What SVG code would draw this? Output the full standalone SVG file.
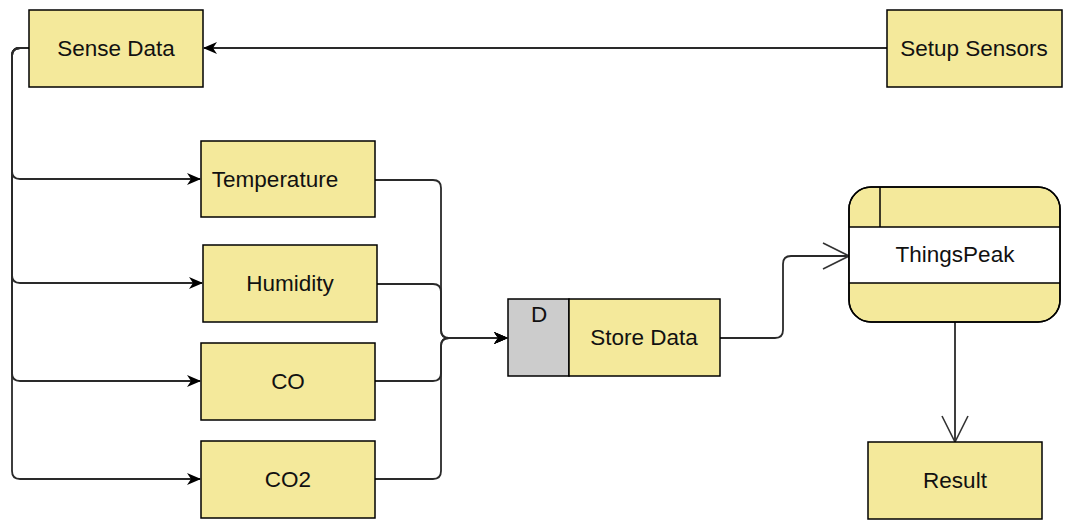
<svg xmlns="http://www.w3.org/2000/svg" width="1066" height="522" viewBox="0 0 1066 522">
<style>
.box{fill:#f4e99b;stroke:#000;stroke-width:1.5}
.lbl{font-family:"Liberation Sans",Arial,sans-serif;font-size:22.5px;fill:#111;text-anchor:middle}
.con{fill:none;stroke:#2a2a2a;stroke-width:1.8}
</style>
<defs>
<marker id="fa" viewBox="0 0 14 12" refX="13" refY="6" markerWidth="14" markerHeight="12" markerUnits="userSpaceOnUse" orient="auto">
<path d="M0,0 L14,6 L0,12 L4,6 Z" fill="#000"/>
</marker>
<marker id="oa" viewBox="0 0 28 30" refX="27" refY="15" markerWidth="28" markerHeight="30" markerUnits="userSpaceOnUse" orient="auto">
<path d="M1,2 L27,15 L1,28" fill="none" stroke="#333" stroke-width="1.6"/>
</marker>
</defs>
<rect width="1066" height="522" fill="#fff"/>
<g id="connectors">
<path class="con" d="M887,48 H204" marker-end="url(#fa)"/>
<path class="con" d="M29,48 H20 Q12,48 12,56 V171 Q12,179 20,179 H200" marker-end="url(#fa)"/>
<path class="con" d="M29,48 H20 Q12,48 12,56 V275 Q12,283 20,283 H202" marker-end="url(#fa)"/>
<path class="con" d="M29,48 H20 Q12,48 12,56 V373 Q12,381 20,381 H200" marker-end="url(#fa)"/>
<path class="con" d="M29,48 H20 Q12,48 12,56 V471 Q12,479 20,479 H200" marker-end="url(#fa)"/>
<path class="con" d="M375,180 H433 Q441,180 441,188 V330 Q441,338 449,338 H507" marker-end="url(#fa)"/>
<path class="con" d="M377,284 H433 Q441,284 441,292 V330 Q441,338 449,338 H507" marker-end="url(#fa)"/>
<path class="con" d="M375,381 H433 Q441,381 441,373 V346 Q441,338 449,338 H507" marker-end="url(#fa)"/>
<path class="con" d="M375,479 H433 Q441,479 441,471 V346 Q441,338 449,338 H507" marker-end="url(#fa)"/>
<path class="con" d="M720,338 H775 Q783,338 783,330 V264 Q783,256 791,256 H849" marker-end="url(#oa)"/>
<path class="con" d="M955,322 V442" marker-end="url(#oa)"/>
</g>
<g id="sense-data">
<rect class="box" x="29" y="10" width="174" height="77"/>
<text class="lbl" x="116" y="56">Sense Data</text>
</g>
<g id="setup-sensors">
<rect class="box" x="887" y="10" width="175" height="77"/>
<text class="lbl" x="974" y="56">Setup Sensors</text>
</g>
<g id="temperature">
<rect class="box" x="201" y="141" width="174" height="76"/>
<text class="lbl" x="275" y="187">Temperature</text>
</g>
<g id="humidity">
<rect class="box" x="203" y="245" width="174" height="77"/>
<text class="lbl" x="290" y="291">Humidity</text>
</g>
<g id="co">
<rect class="box" x="201" y="343" width="174" height="77"/>
<text class="lbl" x="288" y="389">CO</text>
</g>
<g id="co2">
<rect class="box" x="201" y="441" width="174" height="77"/>
<text class="lbl" x="288" y="487">CO2</text>
</g>
<g id="store-data">
<rect x="508" y="299" width="61" height="77" fill="#cccccc" stroke="#000" stroke-width="1.5"/>
<rect class="box" x="569" y="299" width="151" height="77"/>
<text class="lbl" x="539" y="322">D</text>
<text class="lbl" x="644" y="345">Store Data</text>
</g>
<g id="thingspeak">
<rect class="box" x="849" y="187" width="211" height="135" rx="22" ry="22"/>
<rect x="849.75" y="227" width="209.5" height="56" fill="#fff"/>
<path d="M849,227 H1060 M849,283 H1060 M880,187 V227" fill="none" stroke="#000" stroke-width="1.5"/>
<rect x="849" y="187" width="211" height="135" rx="22" ry="22" fill="none" stroke="#000" stroke-width="1.5"/>
<text class="lbl" x="955" y="262">ThingsPeak</text>
</g>
<g id="result">
<rect class="box" x="868" y="442" width="174" height="77"/>
<text class="lbl" x="955" y="488">Result</text>
</g>
</svg>
